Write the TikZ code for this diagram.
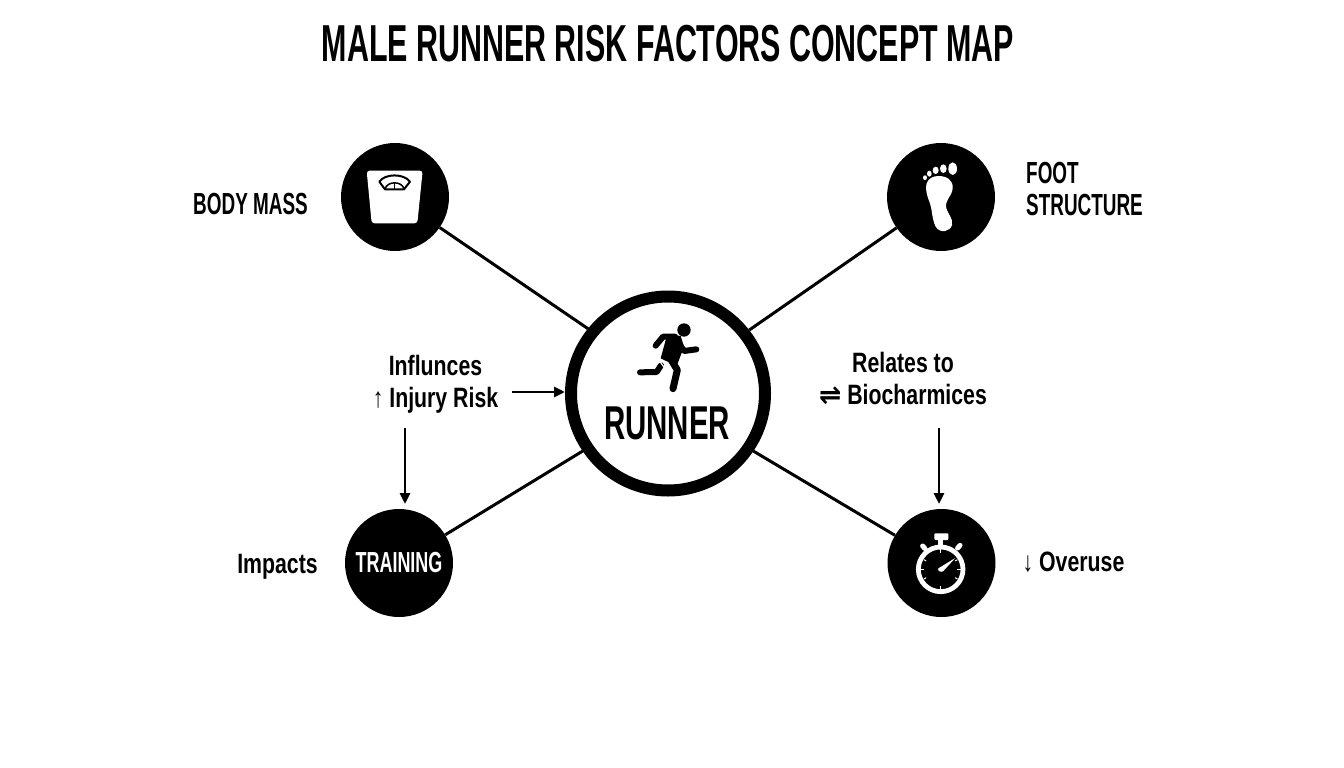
\documentclass[tikz,border=0pt]{standalone}
\usepackage{fontspec}
\setmainfont{Liberation Sans}[FakeStretch=0.62]
\newfontfamily\symfont{DejaVu Sans}[FakeStretch=0.95]
\newfontfamily\titlefont{Liberation Sans}[FakeStretch=0.585]
\newfontfamily\wordfont{Liberation Sans}[FakeStretch=0.76]
\usetikzlibrary{arrows.meta}
\tikzset{
  hub/.style={circle,draw=black,fill=white,line width=12pt,minimum size=194pt,inner sep=0pt},
  spoke/.style={circle,fill=black,minimum size=108pt,inner sep=0pt},
  link/.style={line width=3pt,black},
  flow/.style={line width=2.8pt,black,-{Triangle[length=11pt,width=10pt]}},
  lab/.style={font=\fontsize{30.5}{32}\selectfont\bfseries,inner sep=0pt,align=center,text=black},
  labb/.style={font=\wordfont\fontsize{28}{32}\selectfont\bfseries,inner sep=0pt,align=center,text=black},
  icon/.style={line cap=round,line join=round},
}
\begin{document}
\begin{tikzpicture}[x=1pt,y=-1pt]
\useasboundingbox (0,0) rectangle (1344,768);
\fill[white] (0,0) rectangle (1344,768);
\node[font=\titlefont\fontsize{52}{56}\selectfont\bfseries,inner sep=0pt] (title) at (668,44) {MALE RUNNER RISK FACTORS CONCEPT MAP};
\node[hub] (runner) at (668,393.5) {};
\node[spoke] (mass) at (395,197) {};
\node[spoke] (foot) at (941,197) {};
\node[spoke,text=white,font=\fontsize{29}{32}\selectfont\bfseries] (training) at (399,563) {TRAINING};
\node[spoke] (watch) at (941.5,563) {};
\draw[link] (mass) -- (runner.141);
\draw[link] (foot) -- (runner.38);
\draw[link] (training) -- (runner.214);
\draw[link] (watch) -- (runner.-34);
\node[font=\fontsize{47.5}{56}\selectfont\bfseries,inner sep=0pt] (runnertext) at (667,423) {RUNNER};
\node[lab] (lmass) at (250.5,204) {BODY MASS};
\node[lab,align=left,anchor=west] (lfoot) at (1026,189) {FOOT\\STRUCTURE};
\node[labb] (limp) at (277.5,567) {Impacts};
\node[labb] (lover) at (1073.5,562) {↓ Overuse};
\node[labb] (linf) at (435.5,384) {Influnces\\↑ Injury Risk};
\node[labb] (lrel) at (903,378.5) {Relates to\\{\symfont ⇌} Biocharmices};
\coordinate (a1) at (512,392);
\coordinate (a2) at (405,428);
\coordinate (a2e) at (405,504);
\coordinate (a3) at (939,428);
\coordinate (a3e) at (939,504);
\draw[flow] (a1) -- (a1 -| runner.west);
\draw[flow] (a2) -- (a2e);
\draw[flow] (a3) -- (a3e);
% scale icon
\begin{scope}[shift={(330,130)},xscale=1/3,yscale=1/3,icon]
  \fill[white,rounded corners=3pt] (110,122) -- (278,122) -- (262,280) -- (125,280) -- cycle;
  \draw[black,line width=2pt] (148,155) .. controls (165,130) and (222,130) .. (240,155) -- (222,178) -- (165,178) -- cycle;
  \draw[black,line width=1.5pt] (193,158) -- (193,176);
  \draw[black,line width=1.5pt] (165,178) .. controls (170,152) and (218,152) .. (222,178);
\end{scope}
% foot icon
\begin{scope}[shift={(875,130)},xscale=1/3,yscale=1/3]
  \fill[white] (233,116) ellipse [x radius=13,y radius=19];
  \fill[white] (205,116) ellipse [x radius=10,y radius=13];
  \fill[white] (182,121) ellipse [x radius=9,y radius=11];
  \fill[white] (163,131) ellipse [x radius=7,y radius=9];
  \fill[white] (150,143) ellipse [x radius=6,y radius=7];
  \fill[white] (190,138) .. controls (215,138) and (235,150) .. (233,175)
     .. controls (231,200) and (208,210) .. (214,235)
     .. controls (220,255) and (235,265) .. (231,285)
     .. controls (226,305) and (195,312) .. (182,290)
     .. controls (170,265) and (172,240) .. (165,220)
     .. controls (155,195) and (150,175) .. (155,160)
     .. controls (160,145) and (175,138) .. (190,138) -- cycle;
\end{scope}
% stopwatch icon
\begin{scope}[shift={(875,500)},xscale=1/3,yscale=1/3,icon]
  \draw[white,line width=4.8pt] (197,208) circle [radius=67];
  \fill[white,rounded corners=1pt] (178,100) rectangle (220,120);
  \fill[white] (190,120) rectangle (205,140);
  \draw[white,line width=5pt] (143,138) -- (150,146);
  \draw[white,line width=5pt] (255,136) -- (248,144);
  \foreach \a in {0,90,180,270} \draw[white,line width=1.2pt,line cap=butt] (197,208) ++(\a:50) -- ++(\a:10);
  \foreach \a in {30,150,210,330} \draw[white,line width=1pt,line cap=butt] (197,208) ++(\a:50) -- ++(\a:8);
  \fill[white] (190,205) -- (241,174) -- (204,214) .. controls (198,218) and (186,212) .. (190,205) -- cycle;
\end{scope}
% runner icon
\begin{scope}[shift={(560,290)},xscale=1/3,yscale=1/3,icon]
  \fill[black] (372,120) circle [radius=20];
  \draw[black,line width=6pt] (287,167) -- (309,140) -- (345,140);
  \draw[black,line width=6pt] (350,150) -- (372,183) -- (409,178);
  \fill[black] (322,132) -- (362,138) -- (372,170) -- (350,228) -- (302,205) -- cycle;
  \draw[black,line width=6pt] (303,226) -- (290,246) -- (240,247);
  \draw[black,line width=7pt] (335,212) -- (352,240) -- (339,296);
  \draw[white,line width=1.2pt,line cap=butt] (298,212) -- (318,240);
\end{scope}
\end{tikzpicture}
\end{document}
